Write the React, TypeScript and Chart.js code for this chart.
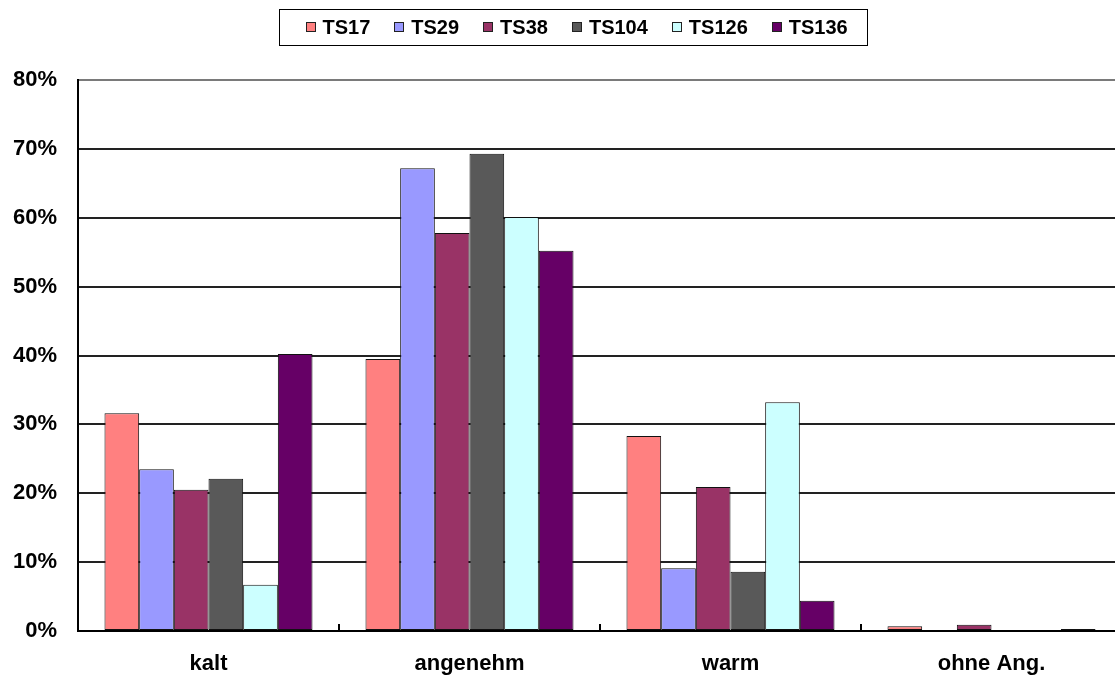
import React, { useEffect, useRef } from "react";
import { Chart, registerables } from "chart.js";

Chart.register(...registerables);

const categories = ["kalt", "angenehm", "warm", "ohne Ang."];
const seriesNames = ["TS17", "TS29", "TS38", "TS104", "TS126", "TS136"];
const ts17 = [31.6, 39.5, 28.3, 0.7];
const ts29 = [23.5, 67.2, 9.1, 0];
const ts38 = [20.5, 57.8, 20.9, 0.9];
const ts104 = [22.1, 69.3, 8.6, 0];
const ts126 = [6.7, 60.1, 33.2, 0];
const ts136 = [40.2, 55.2, 4.4, 0.3];
const seriesColors = ["#FF8080", "#9999FF", "#993366", "#595959", "#CCFFFF", "#660066"];
const yTicks = [0, 10, 20, 30, 40, 50, 60, 70, 80];

const FONT = '"Liberation Sans", Arial, sans-serif';
const LEGEND_FONT = 'bold 20px "Liberation Sans", Arial, sans-serif';

const legendPlugin = {
  id: "boxLegend",
  afterDraw(chart: any) {
    const ctx = chart.ctx;
    ctx.save();
    ctx.font = LEGEND_FONT;
    const items = chart.data.datasets.map((d: any) => ({
      label: d.label,
      color: d.backgroundColor,
      w: ctx.measureText(d.label).width,
    }));
    const sq = 10;
    const gapText = 7;
    const gapItem = 24;
    const padL = 26;
    const padR = 20;
    let total = 0;
    items.forEach((it: any, i: number) => {
      total += sq + gapText + it.w + (i < items.length - 1 ? gapItem : 0);
    });
    const boxW = Math.round(total + padL + padR);
    const left = 279.5;
    const top = 9.5;
    const h = 36;
    ctx.fillStyle = "#fff";
    ctx.fillRect(left, top, boxW, h);
    ctx.strokeStyle = "#000";
    ctx.lineWidth = 1;
    ctx.strokeRect(left, top, boxW, h);
    let x = left + padL;
    const sqTop = 22;
    items.forEach((it: any) => {
      ctx.fillStyle = it.color;
      ctx.fillRect(Math.round(x), sqTop, sq, sq);
      ctx.strokeStyle = "#222";
      ctx.strokeRect(Math.round(x) + 0.5, sqTop + 0.5, sq - 1, sq - 1);
      ctx.fillStyle = "#000";
      ctx.textBaseline = "middle";
      ctx.textAlign = "left";
      ctx.fillText(it.label, x + sq + gapText, 28.5);
      x += sq + gapText + it.w + gapItem;
    });
    ctx.restore();
  },
};

const tickPlugin = {
  id: "catTicks",
  afterDatasetsDraw(chart: any) {
    const xs = chart.scales.x;
    const ctx = chart.ctx;
    const bottom = chart.chartArea.bottom;
    ctx.save();
    ctx.strokeStyle = "#000";
    ctx.lineWidth = 2;
    for (let i = 0; i < categories.length - 1; i++) {
      const px = Math.round((xs.getPixelForTick(i) + xs.getPixelForTick(i + 1)) / 2);
      ctx.beginPath();
      ctx.moveTo(px, bottom);
      ctx.lineTo(px, bottom - 7);
      ctx.stroke();
    }
    ctx.restore();
  },
};

export default function App() {
  const ref = useRef<HTMLCanvasElement | null>(null);
  useEffect(() => {
    if (!ref.current) return;
    const values = [ts17, ts29, ts38, ts104, ts126, ts136];
    const chart = new Chart(ref.current, {
      type: "bar",
      data: {
        labels: categories,
        datasets: seriesNames.map((name, i) => ({
          label: name,
          data: values[i],
          backgroundColor: seriesColors[i],
          borderColor: "#111",
          borderWidth: 1,
          borderSkipped: false,
          categoryPercentage: 0.797,
          barPercentage: 1,
        })),
      },
      options: {
        responsive: false,
        animation: false,
        devicePixelRatio: 1,
        layout: { padding: { top: 80, right: 2, left: 0, bottom: 0 } },
        plugins: {
          legend: { display: false },
          tooltip: { enabled: false },
        },
        scales: {
          x: {
            grid: { display: false, drawTicks: false },
            border: { display: true, color: "#000", width: 2 },
            ticks: {
              color: "#000",
              padding: 20,
              font: { family: FONT, size: 22, weight: "bold" },
            },
            afterFit(scale: any) {
              scale.height = 49;
            },
          },
          y: {
            min: 0,
            max: 80,
            afterBuildTicks(scale: any) {
              scale.ticks = yTicks.map((v) => ({ value: v }));
            },
            grid: {
              drawTicks: false,
              color: (c: any) => (c.tick && c.tick.value === 80 ? "#7a7a7a" : "#222"),
              lineWidth: 2,
            },
            border: { display: true, color: "#000", width: 2 },
            ticks: {
              color: "#000",
              padding: 21,
              font: { family: FONT, size: 22, weight: "bold" },
              callback: (v: any) => `${v}%`,
            },
            afterFit(scale: any) {
              scale.width = 78;
            },
          },
        },
      },
      plugins: [legendPlugin, tickPlugin],
    } as any);
    return () => chart.destroy();
  }, []);
  return (
    <div
      style={{
        position: "fixed",
        left: 0,
        top: 0,
        width: 1115,
        height: 680,
        overflow: "hidden",
        background: "#fff",
      }}
    >
      <canvas ref={ref} width={1124} height={680} style={{ display: "block" }} />
    </div>
  );
}
